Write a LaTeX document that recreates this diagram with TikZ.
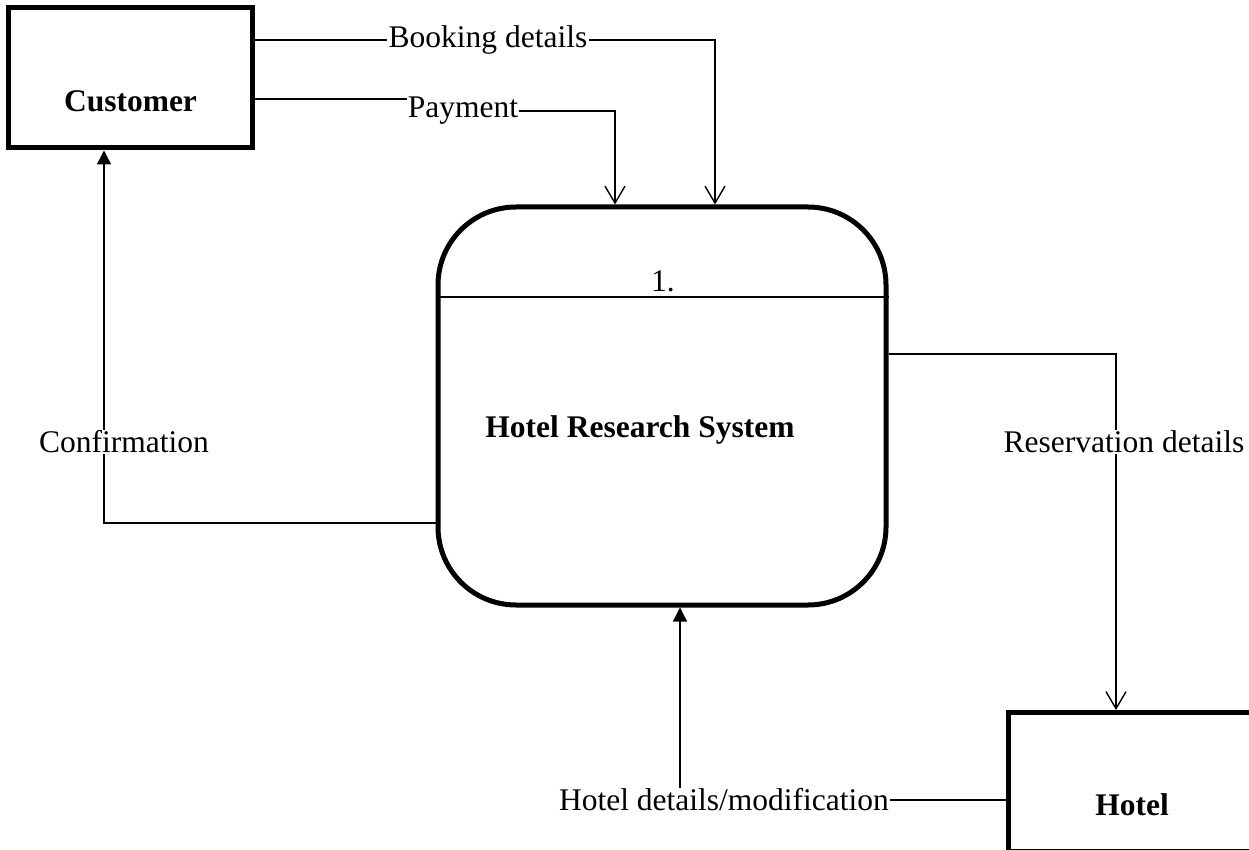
\documentclass[tikz,border=0pt]{standalone}
\usepackage{fontspec}
\setmainfont{Liberation Serif}
\usetikzlibrary{arrows.meta,calc}
\begin{document}
\begin{tikzpicture}[x=1pt,y=-1pt,
  every node/.style={font=\fontsize{31.5}{36}\selectfont},
  boldtext/.style={font=\fontsize{31.5}{36}\selectfont\bfseries},
  entity/.style={draw,line width=5pt,rectangle,inner sep=0pt},
  procbox/.style={draw,line width=5pt,rectangle,rounded corners=78pt,inner sep=0pt,minimum width=448pt,minimum height=398pt},
  flowlabel/.style={inner sep=1pt,fill=white},
  flow/.style={line width=1.4pt},
  openarr/.style={-{Straight Barb[length=17pt,width=20pt,line width=1.4pt]}},
  solidarr/.style={-{Triangle[length=14pt,width=14pt]}}]
\useasboundingbox (0,0) rectangle (1249,850);

% external entities and the process
\node[entity,minimum width=244pt,minimum height=140pt] (cust) at (130.5,78) {};
\node[boldtext] (custtxt) at ([yshift=-23pt]cust.center) {Customer};
\node[procbox] (proc) at (662,406) {};
\draw[line width=1.4pt] (proc.west |- 0,297) -- (proc.east |- 0,297);
\node (pnum) at (663,281) {1.};
\node[boldtext] (ptitle) at (640,430) {Hotel Research System};

\begin{scope}
  \clip (0,0) rectangle (1249,850);
  \node[entity,minimum width=250pt,minimum height=139pt] (hotel) at (1133,782) {};
\end{scope}
\node[boldtext] (hoteltxt) at (1132,805) {Hotel};

% flow labels
\node[inner sep=1pt] (book) at (488,40) {Booking details};
\node[inner sep=1pt] (pay) at (463,111) {Payment};
\node[inner sep=1pt] (hdet) at (724,800) {Hotel details/modification};

% data flows
\draw[flow] (cust.east |- 0,40) -- (book.west);
\draw[flow,openarr] (book.east) -| ([xshift=53pt]proc.north);
\draw[flow] (cust.east |- 0,99) -- (pay.west |- 0,99);
\draw[flow,openarr] (pay.east) -| ([xshift=-47pt]proc.north);

\draw[flow,solidarr] (proc.west |- 0,523) -| ([xshift=-26.5pt]cust.south);
\node[flowlabel] (conf) at (124,442) {Confirmation};

\draw[flow,openarr] (proc.east |- 0,354) -| ([xshift=-17pt]hotel.north);
\node[flowlabel] (resv) at (1124,442) {Reservation details};

\draw[flow] (hdet.east) -- (hotel.west |- hdet.east);
\draw[flow,solidarr] ([xshift=-44pt]hdet.north) -- ([xshift=18pt]proc.south);
\end{tikzpicture}
\end{document}
